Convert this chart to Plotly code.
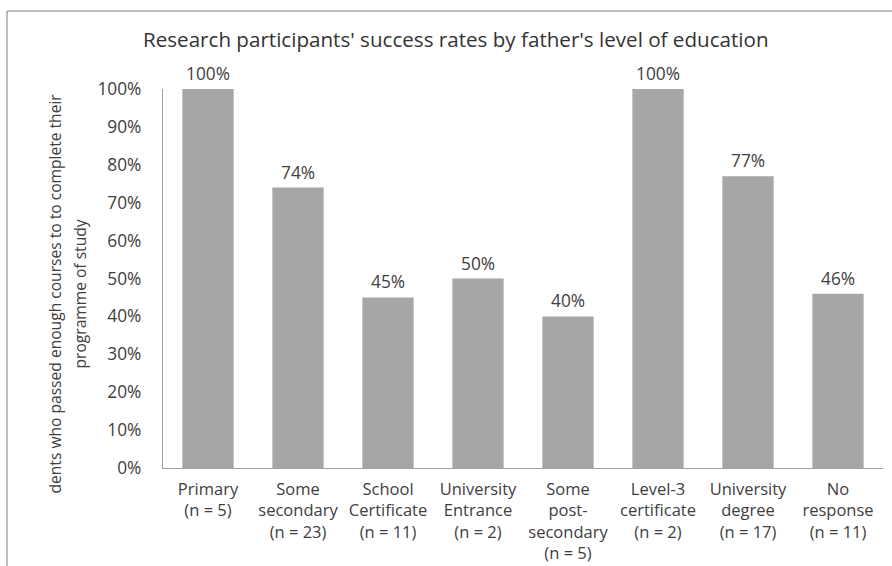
import plotly.graph_objects as go

categories = ["Primary", "Some secondary", "School Certificate", "University Entrance",
              "Some post-secondary", "Level-3 certificate", "University degree", "No response"]
tick_labels = [
    "Primary<br>(n = 5)",
    "Some<br>secondary<br>(n = 23)",
    "School<br>Certificate<br>(n = 11)",
    "University<br>Entrance<br>(n = 2)",
    "Some<br>post-<br>secondary<br>(n = 5)",
    "Level-3<br>certificate<br>(n = 2)",
    "University<br>degree<br>(n = 17)",
    "No<br>response<br>(n = 11)",
]
success_rate = [1.00, 0.74, 0.45, 0.50, 0.40, 1.00, 0.77, 0.46]
y_ticks = [0, 0.1, 0.2, 0.3, 0.4, 0.5, 0.6, 0.7, 0.8, 0.9, 1.0]
y_tick_labels = ["0%", "10%", "20%", "30%", "40%", "50%", "60%", "70%", "80%", "90%", "100%"]
title_text = "Research participants' success rates by father's level of education"
y_title_lines = ["dents who passed enough courses to to complete their", "programme of study"]

FONT = "Open Sans"
TXT = "#404040"
W, H = 892, 566
ML, MR, MT, MB = 163, 9, 89, 98
pw = W - ML - MR
ph = H - MT - MB
FS = 17.3

fig = go.Figure()
fig.add_trace(go.Bar(
    x=categories, y=success_rate,
    marker=dict(color="#a6a6a6", line=dict(width=0)),
    width=0.57, hoverinfo="skip",
))

annotations = []
# data labels
for c, v in zip(categories, success_rate):
    annotations.append(dict(x=c, y=v, xref="x", yref="y", text=f"{round(v*100)}%",
                            showarrow=False, yanchor="bottom", yshift=2,
                            font=dict(family=FONT, size=FS, color=TXT)))
# y title lines
for i, ln in enumerate(y_title_lines):
    annotations.append(dict(x=(54.5 + 25 * i - ML) / pw, y=(H - 294 - MB) / ph,
                            xref="paper", yref="paper", text=ln, textangle=-90,
                            showarrow=False, xanchor="center", yanchor="middle",
                            font=dict(family=FONT, size=15.6, color=TXT)))
# title
annotations.append(dict(x=(456 - ML) / pw, y=(H - 39 - MB) / ph, xref="paper", yref="paper",
                        text=title_text, showarrow=False, xanchor="center", yanchor="middle",
                        font=dict(family=FONT, size=20.6, color="#333333")))

shapes = [
    # outer chart border (top and left edges visible)
    dict(type="line", xref="paper", yref="paper",
         x0=(7 - ML) / pw, x1=(W + 5 - ML) / pw, y0=(H - 11 - MB) / ph, y1=(H - 11 - MB) / ph,
         line=dict(color="#aaaaaa", width=1.5)),
    dict(type="line", xref="paper", yref="paper",
         x0=(7 - ML) / pw, x1=(7 - ML) / pw, y0=(H - 11 - MB) / ph, y1=(-5 - MB) / ph,
         line=dict(color="#aaaaaa", width=1.5)),
]

fig.update_layout(
    width=W, height=H,
    margin=dict(l=ML, r=MR, t=MT, b=MB, pad=0),
    paper_bgcolor="white", plot_bgcolor="white",
    showlegend=False, bargap=0.43,
    annotations=annotations, shapes=shapes,
    xaxis=dict(tickvals=categories, ticktext=tick_labels, showline=True, linecolor="#a0a0a0",
               linewidth=1.3, ticks="", showgrid=False, zeroline=False, tickangle=0,
               automargin=False, ticklabelstandoff=6,
               tickfont=dict(family=FONT, size=16.5, color=TXT)),
    yaxis=dict(range=[0, 1], tickvals=y_ticks, ticktext=y_tick_labels, automargin=False,
               showline=True, linecolor="#a0a0a0", linewidth=1.3, ticks="",
               showgrid=False, zeroline=False, ticklabelstandoff=17,
               tickfont=dict(family=FONT, size=FS, color=TXT)),
)

fig.write_html("out.html", config={"displayModeBar": False},
               post_script="document.body.style.margin='0';")
